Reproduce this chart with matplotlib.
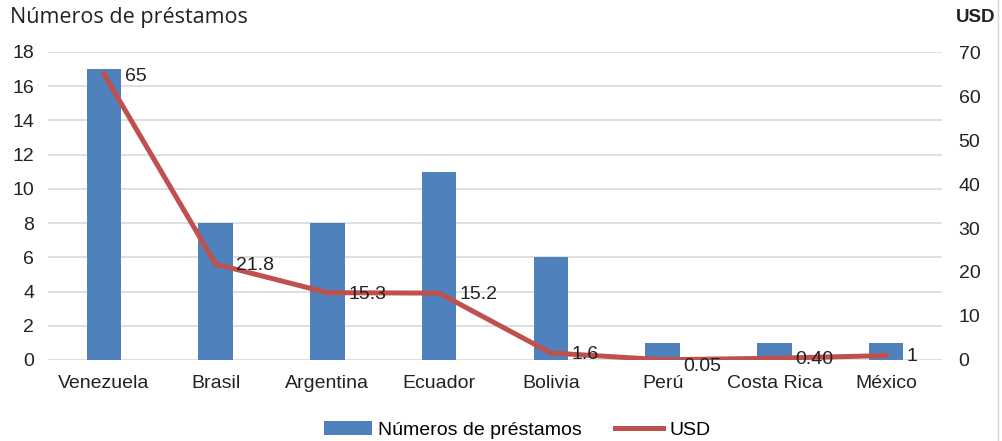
import matplotlib.pyplot as plt
import numpy as np

paises = ['Venezuela', 'Brasil', 'Argentina', 'Ecuador', 'Bolivia', 'Perú', 'Costa Rica', 'México']
prestamos = [17, 8, 8, 11, 6, 1, 1, 1]
usd = [65, 21.8, 15.3, 15.2, 1.6, 0.05, 0.40, 1]
usd_labels = ['65', '21.8', '15.3', '15.2', '1.6', '0.05', '0.40', '1']
label_dy = [-2, -1, -1, -1, -1, -5, -1, -1]

plt.rcParams['font.family'] = ['Liberation Sans', 'DejaVu Sans']
fs = 14

fig = plt.figure(figsize=(10.02, 4.41), dpi=100)
ax = fig.add_axes([48 / 1002, 1 - 360 / 441, 894 / 1002, 308 / 441])
ax2 = ax.twinx()

x = np.arange(len(paises))
ax.bar(x, prestamos, width=0.31, color='#4F81BD', zorder=2, label='Números de préstamos')
ax2.plot(x, usd, color='#C0504D', linewidth=3.6, zorder=3, label='USD')

for xi, v, t, dy in zip(x, usd, usd_labels, label_dy):
    ax2.annotate(t, (xi, v), xytext=(15, dy), textcoords='offset points',
                 ha='left', va='center', fontsize=fs, color='#222222')

ax.set_xlim(-0.5, len(paises) - 0.5)
ax.set_ylim(0, 18)
ax.set_yticks(range(0, 19, 2))
ax2.set_ylim(0, 70)
ax2.set_yticks(range(0, 71, 10))
ax.set_xticks(x)
ax.set_xticklabels(paises)

ax.grid(axis='y', color='#D9D9D9', linewidth=1.2, zorder=0)
ax.set_axisbelow(True)
for a in (ax, ax2):
    for s in a.spines.values():
        s.set_visible(False)
    a.tick_params(length=0, labelsize=fs, colors='#222222')
ax.tick_params(axis='y', pad=10)
ax.tick_params(axis='x', pad=11)
ax2.tick_params(axis='y', pad=12)
ax.set_zorder(ax2.get_zorder() - 1)
ax.patch.set_visible(True)
ax2.patch.set_visible(False)

# thin chart border on the right edge
fig.add_artist(plt.Line2D([998 / 1002, 998 / 1002], [0, 1], transform=fig.transFigure,
                          color='#D9D9D9', linewidth=1))

fig.text(10 / 1002, 1 - 18 / 441, 'Números de préstamos', fontsize=15.5, family=['Open Sans', 'DejaVu Sans'],
         ha='left', va='center', color='#222222')
fig.text(995 / 1002, 1 - 18 / 441, 'USD', fontsize=13.5, fontweight='bold', ha='right', va='center', color='#222222')

h1, l1 = ax.get_legend_handles_labels()
h2, l2 = ax2.get_legend_handles_labels()
fig.legend(h1 + h2, l1 + l2, loc='center', bbox_to_anchor=(517 / 1002, 1 - 430 / 441), ncol=2,
           frameon=False, fontsize=fs, handlelength=2.5, columnspacing=1.7, handletextpad=0.3)

fig.savefig('out.png', dpi=100)
